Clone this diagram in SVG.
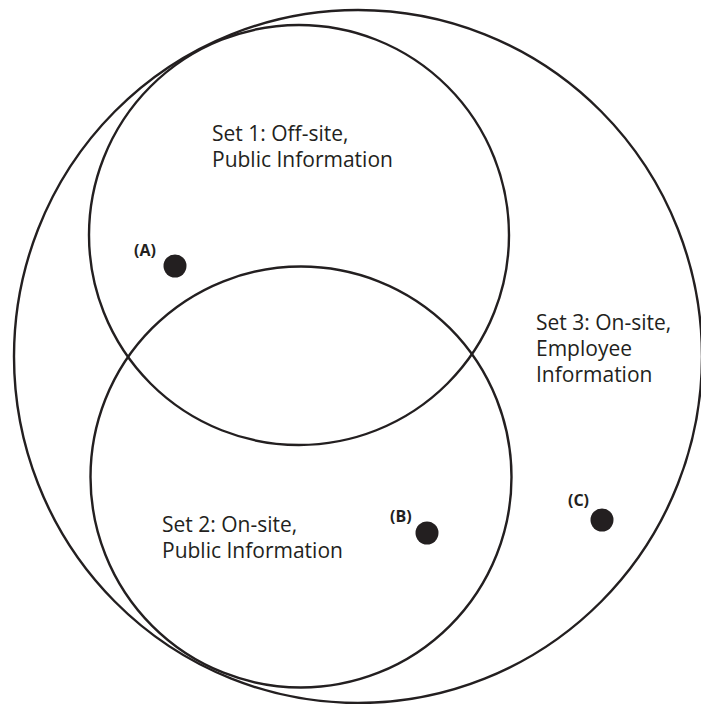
<svg xmlns="http://www.w3.org/2000/svg" width="701" height="704" viewBox="0 0 701 704">
<style>
.set{fill:none;stroke:#231f20;stroke-width:2.4}
.lbl{font-family:"Open Sans","Noto Sans",sans-serif;font-size:21px;fill:#231f20}
.pt{font-family:"Open Sans","Noto Sans",sans-serif;font-size:16px;font-weight:bold;fill:#231f20}
.dot{fill:#231f20}
</style>
<rect width="701" height="704" fill="#fff"/>
<g id="set3">
<ellipse class="set" cx="358" cy="356.5" rx="344" ry="346.5"/>
<text class="lbl" x="536" y="330">Set 3: On-site,</text>
<text class="lbl" x="536" y="356">Employee</text>
<text class="lbl" x="536" y="382">Information</text>
</g>
<g id="set1">
<circle class="set" cx="299" cy="235" r="210"/>
<text class="lbl" x="212" y="141">Set 1: Off-site,</text>
<text class="lbl" x="212" y="167">Public Information</text>
</g>
<g id="set2">
<circle class="set" cx="301" cy="477" r="210.5"/>
<text class="lbl" x="162" y="532">Set 2: On-site,</text>
<text class="lbl" x="162" y="558">Public Information</text>
</g>
<g id="pointA">
<circle class="dot" cx="175" cy="266" r="11.5"/>
<text class="pt" x="134" y="256">(A)</text>
</g>
<g id="pointB">
<circle class="dot" cx="427" cy="533" r="11.5"/>
<text class="pt" x="390" y="522">(B)</text>
</g>
<g id="pointC">
<circle class="dot" cx="602" cy="520" r="11.5"/>
<text class="pt" x="568" y="506">(C)</text>
</g>
<g id="connectors"></g>
</svg>
